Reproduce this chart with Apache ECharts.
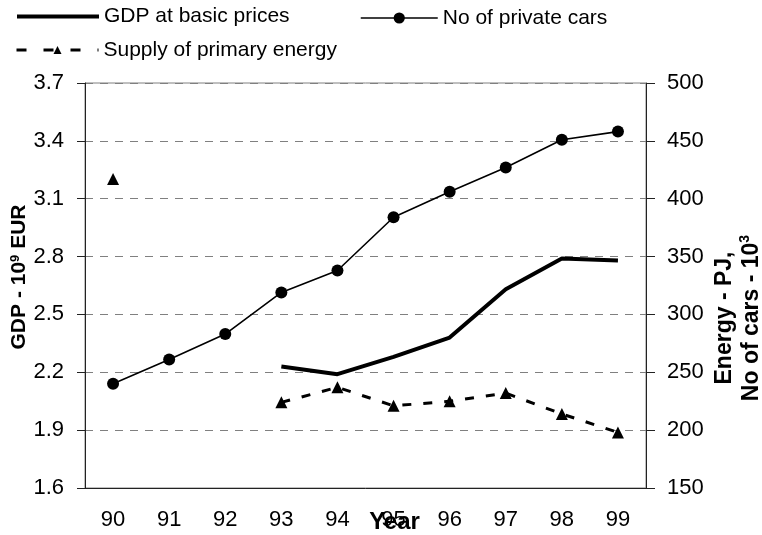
<!DOCTYPE html>
<html><head><meta charset="utf-8">
<script src="https://cdn.jsdelivr.net/npm/echarts@6/dist/echarts.min.js"></script>
<style>html,body{margin:0;padding:0;background:#fff}#c{width:762px;height:535px}</style>
</head><body><div id="c"></div>
<script>
const years = ['90','91','92','93','94','95','96','97','98','99'];
const gdp = [null, null, null, 2.23, 2.19, 2.28, 2.38, 2.63, 2.79, 2.78];
const cars = [240, 261, 283, 319, 338, 384, 406, 427, 451, 458];
const energy = [417, null, null, 224, 237, 221, 225, 232, 214, 198];
const gdpTicks = [1.6, 1.9, 2.2, 2.5, 2.8, 3.1, 3.4, 3.7];
const rightTicks = [150, 200, 250, 300, 350, 400, 450, 500];

const F = "'Liberation Sans', Arial, sans-serif";
const chart = echarts.init(document.getElementById('c'));
const legendBase = {padding: 0, selectedMode: false, textStyle: {fontFamily: F, fontSize: 21, color: '#000'}};
chart.setOption({
  animation: false,
  textStyle: {fontFamily: F},
  grid: {left: 85, right: 116, top: 83, bottom: 47, show: true, borderColor: '#808080', borderWidth: 1,
    containLabel: false, outerBoundsMode: 'none'},
  legend: [
    Object.assign({}, legendBase, {data: ['GDP at basic prices'], left: 15, top: 6, itemWidth: 82, itemHeight: 14,
      lineStyle: {width: 4, color: '#000'}, itemStyle: {opacity: 0}}),
    Object.assign({}, legendBase, {data: ['No of private cars'], left: 360, top: 7.5, itemWidth: 77, itemHeight: 14,
      lineStyle: {width: 1.5, color: '#000'}}),
    Object.assign({}, legendBase, {data: ['Supply of primary energy'], left: 15, top: 39.5, itemWidth: 82, itemHeight: 10,
      lineStyle: {width: 3, color: '#000', type: [10, 17]}})
  ],
  xAxis: {
    type: 'category', data: years, boundaryGap: true,
    axisLine: {onZero: false, lineStyle: {color: '#222', width: 1}},
    axisTick: {length: 7, lineStyle: {color: '#222'}},
    axisLabel: {fontSize: 22, color: '#000', margin: 21, fontFamily: F},
    name: 'Year', nameLocation: 'middle', nameGap: 22, nameMoveOverlap: false,
    nameTextStyle: {fontSize: 24, fontWeight: 'bold', color: '#000', fontFamily: F, padding: [0, 0, 0, 58]}
  },
  yAxis: [
    {
      type: 'value', min: gdpTicks[0], max: gdpTicks[gdpTicks.length - 1], interval: 0.3, position: 'left',
      axisLine: {show: true, lineStyle: {color: '#222'}},
      axisTick: {show: true, length: 8, lineStyle: {color: '#222'}},
      axisLabel: {fontSize: 22, color: '#000', margin: 21, fontFamily: F, formatter: v => v.toFixed(1)},
      splitLine: {show: true, lineStyle: {color: '#808080', type: [8, 7], width: 1}},
      name: '{b|GDP - 10}{s|9}{b| EUR}', nameLocation: 'middle', nameGap: 55, nameMoveOverlap: false,
      nameTextStyle: {padding: [0, 0, 0, 17], rich: {
        b: {fontSize: 21, fontWeight: 'bold', color: '#000', fontFamily: F, lineHeight: 21},
        s: {fontSize: 13, fontWeight: 'bold', color: '#000', fontFamily: F, verticalAlign: 'top', lineHeight: 13}
      }}
    },
    {
      type: 'value', min: rightTicks[0], max: rightTicks[rightTicks.length - 1], interval: 50, position: 'right',
      axisLine: {show: true, lineStyle: {color: '#222'}},
      axisTick: {show: true, length: 9, lineStyle: {color: '#222'}},
      axisLabel: {fontSize: 22, color: '#000', margin: 21, fontFamily: F},
      splitLine: {show: false},
      name: '{b|Energy - PJ,}\n{b|No of cars - 10}{s|3}', nameLocation: 'middle', nameGap: 65, nameMoveOverlap: false,
      nameTextStyle: {padding: [0, 65, 0, 0], rich: {
        b: {fontSize: 23, fontWeight: 'bold', color: '#000', fontFamily: F, lineHeight: 27},
        s: {fontSize: 14, fontWeight: 'bold', color: '#000', fontFamily: F, verticalAlign: 'top', lineHeight: 14}
      }}
    }
  ],
  series: [
    {name: 'GDP at basic prices', type: 'line', yAxisIndex: 0, data: gdp, symbol: 'none',
      lineStyle: {width: 4, color: '#000'}, itemStyle: {color: '#000'}},
    {name: 'No of private cars', type: 'line', yAxisIndex: 1, data: cars, symbol: 'circle', symbolSize: 12,
      lineStyle: {width: 1.6, color: '#000'}, itemStyle: {color: '#000'}},
    {name: 'Supply of primary energy', type: 'line', yAxisIndex: 1, data: energy, symbol: 'triangle', symbolSize: 12,
      lineStyle: {width: 3, color: '#000', type: [9, 12]}, itemStyle: {color: '#000'}}
  ]
});
</script></body></html>
